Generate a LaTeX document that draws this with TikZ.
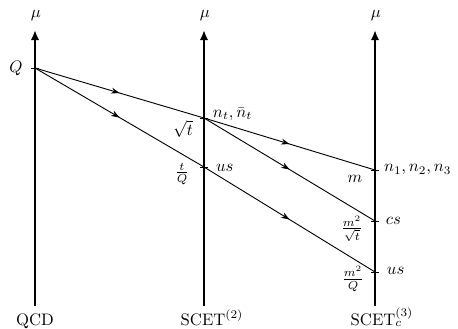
\documentclass[tikz,border=0pt]{standalone}
\usetikzlibrary{arrows.meta,decorations.markings}
\begin{document}
\begin{tikzpicture}[x=0.6pt,y=-0.6pt,
  axisline/.style={line width=1.5pt,-{Latex[length=6pt,width=5pt]}},
  flowline/.style={line width=0.55pt,postaction={decorate},
    decoration={markings,mark=at position 0.5 with {\arrow{Stealth[length=5pt,width=3.6pt]}}}},
  tickmark/.style={line width=0.55pt},
  lbl/.style={inner sep=0pt,outer sep=0pt}]
\useasboundingbox (0,0) rectangle (458,328);
% axis ends
\coordinate (b1) at (35,306); \coordinate (t1) at (35,30);
\coordinate (b2) at (204,306); \coordinate (t2) at (204,30);
\coordinate (b3) at (375,306); \coordinate (t3) at (375,30);
\draw[axisline] (b1) -- (t1);
\draw[axisline] (b2) -- (t2);
\draw[axisline] (b3) -- (t3);
% points
\coordinate (Q) at (35,68);
\coordinate (nt) at (204,118);
\coordinate (us2) at (204,167);
\coordinate (n3) at (375,170);
\coordinate (cs) at (375,221);
\coordinate (us3) at (375,272);
\foreach \p in {Q,nt,us2,n3,cs,us3}
  \draw[tickmark] ([xshift=-2.4pt]\p) -- ([xshift=2.4pt]\p);
% lines
\draw[flowline] (Q) -- (nt);
\draw[flowline] (Q) -- (us2);
\draw[flowline] (nt) -- (n3);
\draw[flowline] (nt) -- (cs);
\draw[flowline] (us2) -- (us3);
% labels
\node[lbl,anchor=base] (mu1) at (36,17) {$\mu$};
\node[lbl,anchor=base] (mu2) at (205,17) {$\mu$};
\node[lbl,anchor=base] (mu3) at (376,17) {$\mu$};
\node[lbl] (lQ) at (16,68) {$Q$};
\node[lbl,anchor=west] (lnt) at (213,114) {$n_t,\bar n_t$};
\node[lbl] (lsqt) at (183,129) {$\sqrt{t}$};
\node[lbl] (ltQ) at (182,174) {$\frac{t}{Q}$};
\node[lbl,anchor=west] (lus2) at (216,168) {$us$};
\node[lbl] (lm) at (355,179) {$m$};
\node[lbl,anchor=west] (ln3) at (384,170) {$n_1,n_2,n_3$};
\node[lbl,anchor=west] (lcs) at (386,221) {$cs$};
\node[lbl] (lm2t) at (352,229) {$\frac{m^2}{\sqrt{t}}$};
\node[lbl] (lm2Q) at (353,279) {$\frac{m^2}{Q}$};
\node[lbl,anchor=west] (lus3) at (387,271) {$us$};
\node[lbl,anchor=base] (qcd) at (35,325) {QCD};
\node[lbl,anchor=base] (s2) at (212,325) {SCET$^{(2)}$};
\node[lbl,anchor=base] (s3) at (382,325) {SCET$_c^{(3)}$};
\end{tikzpicture}
\end{document}
